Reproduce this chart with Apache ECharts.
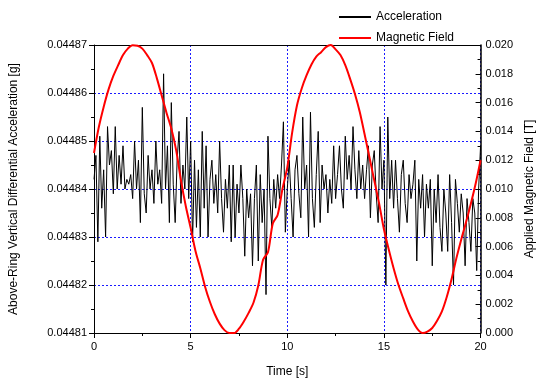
<!DOCTYPE html>
<html>
<head>
<meta charset="utf-8">
<script src="https://cdn.jsdelivr.net/npm/echarts@6/dist/echarts.min.js"></script>
<style>
html,body{margin:0;padding:0;background:#fff;}
#chart{width:544px;height:383px;}
</style>
</head>
<body>
<div id="chart"></div>
<script>
// ---- Data ----
const seriesNames = ['Acceleration', 'Magnetic Field'];
const accelStart = 0;      // s
const accelStep = 0.1;     // s, sampling interval of acceleration record
const acceleration = [
0.044842,0.044847,0.044829,0.044851,0.044836,0.044844,0.044830,0.044853,0.044845,0.044848,
0.044839,0.044853,0.044840,0.044847,0.044841,0.044849,0.044840,0.044842,0.044841,0.044843,
0.044838,0.044850,0.044840,0.044846,0.044833,0.044857,0.044839,0.044835,0.044847,0.044840,
0.044844,0.044837,0.044850,0.044841,0.044844,0.044837,0.044864,0.044840,0.044849,0.044833,
0.044858,0.044841,0.044833,0.044846,0.044852,0.044837,0.044845,0.044840,0.044855,0.044838,
0.044850,0.044829,0.044846,0.044832,0.044844,0.044830,0.044852,0.044836,0.044849,0.044830,
0.044842,0.044846,0.044837,0.044843,0.044835,0.044850,0.044838,0.044831,0.044842,0.044836,
0.044845,0.044829,0.044845,0.044830,0.044841,0.044835,0.044845,0.044838,0.044826,0.044840,
0.044834,0.044839,0.044824,0.044838,0.044845,0.044825,0.044843,0.044833,0.044840,0.044818,
0.044851,0.044838,0.044832,0.044842,0.044836,0.044843,0.044838,0.044845,0.044854,0.044831,
0.044840,0.044846,0.044838,0.044830,0.044844,0.044847,0.044839,0.044834,0.044855,0.044840,
0.044845,0.044830,0.044856,0.044838,0.044832,0.044843,0.044852,0.044833,0.044845,0.044840,
0.044843,0.044835,0.044842,0.044837,0.044849,0.044838,0.044843,0.044849,0.044840,0.044836,
0.044851,0.044842,0.044847,0.044840,0.044853,0.044844,0.044838,0.044848,0.044840,0.044845,
0.044838,0.044844,0.044849,0.044834,0.044845,0.044848,0.044839,0.044833,0.044853,0.044840,
0.044846,0.044820,0.044855,0.044838,0.044846,0.044836,0.044846,0.044838,0.044831,0.044843,
0.044846,0.044837,0.044833,0.044843,0.044838,0.044841,0.044846,0.044825,0.044842,0.044836,
0.044843,0.044830,0.044841,0.044836,0.044842,0.044824,0.044840,0.044833,0.044843,0.044832,
0.044827,0.044840,0.044835,0.044827,0.044843,0.044833,0.044820,0.044842,0.044837,0.044831,
0.044839,0.044835,0.044824,0.044838,0.044833,0.044827,0.044838,0.044835,0.044823,0.044840,
0.044849
];
const fieldTimes = [
0,0.25,0.5,0.75,1,1.25,1.5,1.75,2,2.25,2.5,2.75,3,3.25,3.5,3.75,4,4.25,4.5,4.75,
5,5.25,5.5,5.75,6,6.25,6.5,6.75,7,7.25,7.5,7.75,8,8.25,8.5,8.75,9,9.25,9.5,9.75,
10,10.25,10.5,10.75,11,11.25,11.5,11.75,12,12.25,12.5,12.75,13,13.25,13.5,13.75,14,14.25,14.5,14.75,
15,15.25,15.5,15.75,16,16.25,16.5,16.75,17,17.25,17.5,17.75,18,18.25,18.5,18.75,19,19.25,19.5,19.75,20
];
const magneticField = [
0.01250,0.01430,0.01570,0.01690,0.01785,0.01860,0.01930,0.01975,0.01998,0.01995,
0.01975,0.01930,0.01875,0.01770,0.01650,0.01530,0.01420,0.01270,0.01060,0.00880,
0.00730,0.00570,0.00450,0.00320,0.00215,0.00130,0.00065,0.00020,0.00000,0.00000,
0.00030,0.00080,0.00140,0.00210,0.00330,0.00510,0.00560,0.00760,0.00820,0.01000,
0.01150,0.01390,0.01580,0.01700,0.01790,0.01865,0.01920,0.01950,0.01985,0.02000,
0.01970,0.01930,0.01860,0.01765,0.01660,0.01535,0.01380,0.01220,0.01060,0.00900,
0.00720,0.00580,0.00450,0.00335,0.00240,0.00150,0.00080,0.00025,0.00000,0.00010,
0.00035,0.00085,0.00150,0.00250,0.00375,0.00520,0.00650,0.00770,0.00900,0.01040,
0.01200
];
const xTicks = {min: 0, max: 20, interval: 5};
const yLeftTicks = {min: 0.04481, max: 0.04487, interval: 0.00001};
const yRightTicks = {min: 0, max: 0.02, interval: 0.002};
const axisTitles = {
  x: 'Time [s]',
  yLeft: 'Above-Ring Vertical Differential Acceleration [g]',
  yRight: 'Applied Magnetic Field [T]'
};

// ---- Chart ----
const accelData = acceleration.map((v, i) => [accelStart + i * accelStep, v]);
const fieldData = magneticField.map((v, i) => [fieldTimes[i], v]);

const FONT = '"Liberation Sans", Arial, sans-serif';
const chart = echarts.init(document.getElementById('chart'), null, {renderer: 'canvas'});
const gridLine = {show: true, lineStyle: {color: '#1a1aff', type: [2, 2], width: 1}};
chart.setOption({
  animation: false,
  backgroundColor: '#fff',
  textStyle: {fontFamily: FONT},
  grid: {left: 91, right: 61, top: 45, bottom: 49, containLabel: false},
  legend: {
    orient: 'vertical', left: 334, top: 6, itemWidth: 32, itemHeight: 2, itemGap: 9,
    textStyle: {fontFamily: FONT, fontSize: 12, color: '#000'},
    data: [
      {name: seriesNames[0], icon: 'rect', itemStyle: {color: '#000'}},
      {name: seriesNames[1], icon: 'rect', itemStyle: {color: '#ff0000'}}
    ]
  },
  xAxis: [{
    type: 'value', min: xTicks.min, max: xTicks.max, interval: xTicks.interval,
    name: axisTitles.x, nameLocation: 'middle', nameGap: 33,
    nameTextStyle: {fontFamily: FONT, fontSize: 12, color: '#000'},
    axisLine: {show: true, onZero: false, lineStyle: {color: '#000', width: 1}},
    axisTick: {show: true, inside: false, length: 5, lineStyle: {color: '#000'}},
    minorTick: {show: true, splitNumber: 2, length: 3, lineStyle: {color: '#000'}},
    axisLabel: {fontFamily: FONT, fontSize: 11, color: '#000', margin: 8},
    splitLine: gridLine
  }, {
    type: 'value', position: 'top', min: xTicks.min, max: xTicks.max,
    axisLine: {show: true, onZero: false, lineStyle: {color: '#000', width: 1}},
    axisTick: {show: false}, axisLabel: {show: false}, splitLine: {show: false}
  }],
  yAxis: [{
    type: 'value', position: 'left', min: yLeftTicks.min, max: yLeftTicks.max, interval: yLeftTicks.interval,
    name: axisTitles.yLeft, nameLocation: 'middle', nameGap: 74,
    nameTextStyle: {fontFamily: FONT, fontSize: 12, color: '#000'},
    axisLine: {show: true, onZero: false, lineStyle: {color: '#000', width: 1}},
    axisTick: {show: true, inside: false, length: 5, lineStyle: {color: '#000'}},
    minorTick: {show: true, splitNumber: 2, length: 3, lineStyle: {color: '#000'}},
    axisLabel: {fontFamily: FONT, fontSize: 11, color: '#000', margin: 7,
      formatter: v => v.toFixed(5)},
    splitLine: gridLine
  }, {
    type: 'value', position: 'right', min: yRightTicks.min, max: yRightTicks.max, interval: yRightTicks.interval,
    name: axisTitles.yRight, nameLocation: 'middle', nameGap: 42, nameRotate: 90,
    nameTextStyle: {fontFamily: FONT, fontSize: 12, color: '#000'},
    axisLine: {show: true, onZero: false, lineStyle: {color: '#000', width: 1.5}},
    axisTick: {show: true, inside: true, length: 5, lineStyle: {color: '#000'}},
    minorTick: {show: true, splitNumber: 2, length: 3, lineStyle: {color: '#000'}},
    axisLabel: {fontFamily: FONT, fontSize: 11, color: '#000', margin: 5,
      formatter: v => v.toFixed(3)},
    splitLine: {show: false}
  }],
  series: [{
    name: seriesNames[0], type: 'line', xAxisIndex: 0, yAxisIndex: 0,
    data: accelData, showSymbol: false, symbol: 'none',
    lineStyle: {color: '#000', width: 1}, itemStyle: {color: '#000'}
  }, {
    name: seriesNames[1], type: 'line', xAxisIndex: 0, yAxisIndex: 1,
    data: fieldData, showSymbol: false, symbol: 'none', smooth: 0.3,
    lineStyle: {color: '#ff0000', width: 2}, itemStyle: {color: '#ff0000'}
  }]
});
</script>
</body>
</html>
